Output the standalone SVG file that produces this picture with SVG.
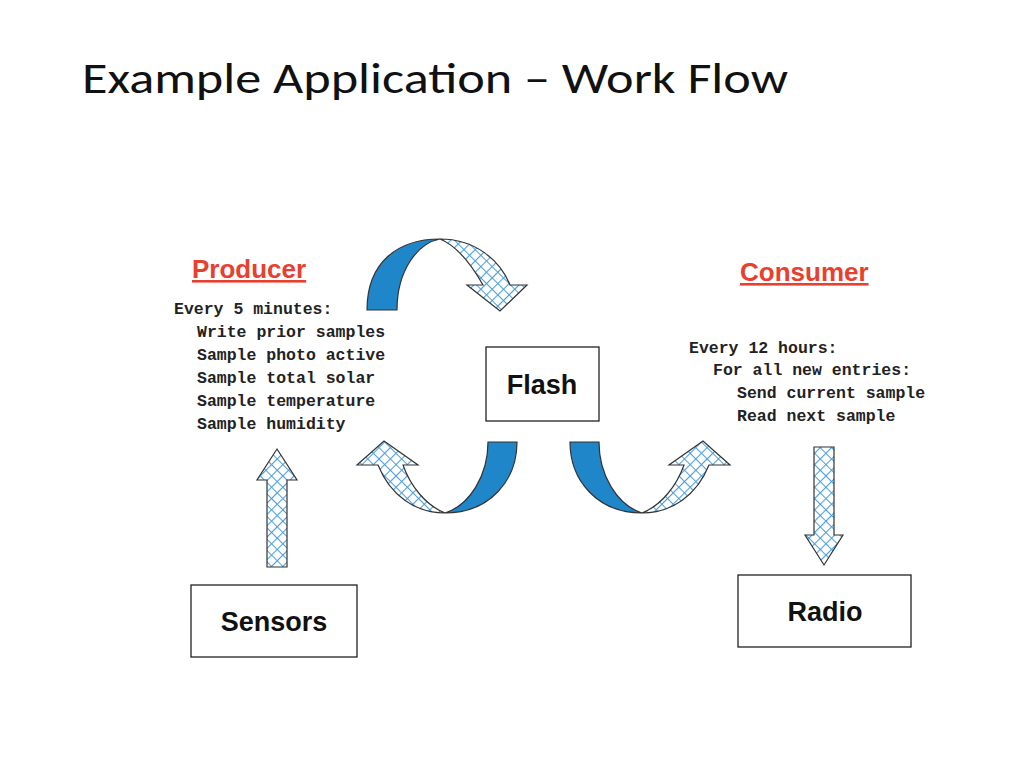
<svg xmlns="http://www.w3.org/2000/svg" width="1024" height="768" viewBox="0 0 1024 768">
<style>
.box{fill:#fff;stroke:#222;stroke-width:1.3}
.lbl{font-family:"Liberation Sans",Arial,sans-serif;font-weight:bold;font-size:27px;fill:#111;text-anchor:middle}
.role{font-family:"Liberation Sans",Arial,sans-serif;font-weight:bold;font-size:26px;fill:#e8402f;text-decoration:underline}
.code{font-family:"Liberation Mono","Courier New",monospace;font-weight:bold;font-size:16.5px;fill:#222}
.solid{fill:#1f86c9;stroke:#333;stroke-width:1.2}
.hatch{fill:url(#hx);stroke:#333;stroke-width:1.2}
</style>
<defs>
<pattern id="hx" width="8" height="8" patternUnits="userSpaceOnUse" patternTransform="rotate(45)">
<rect width="8" height="8" fill="#fff"/>
<path d="M0,0H8M0,0V8" stroke="#4d9fdc" stroke-width="2.2"/>
</pattern>
</defs>
<rect width="1024" height="768" fill="#fff"/>
<text x="82" y="93" font-family="Carlito,'Open Sans','Liberation Sans',sans-serif" font-size="44" fill="#111" textLength="706" lengthAdjust="spacingAndGlyphs">Example Application – Work Flow</text>

<text class="role" x="192" y="278">Producer</text>
<text class="role" x="740" y="281">Consumer</text>
<g class="code">
<text x="174" y="314">Every 5 minutes:</text>
<text x="197" y="337">Write prior samples</text>
<text x="197" y="360">Sample photo active</text>
<text x="197" y="383">Sample total solar</text>
<text x="197" y="406">Sample temperature</text>
<text x="197" y="429">Sample humidity</text>
<text x="689" y="353">Every 12 hours:</text>
<text x="713" y="375">For all new entries:</text>
<text x="737" y="398">Send current sample</text>
<text x="737" y="421">Read next sample</text>
</g>

<g id="flash"><rect class="box" x="486" y="347" width="113" height="74"/><text class="lbl" x="542" y="394">Flash</text></g>
<g id="sensors"><rect class="box" x="191" y="585" width="166" height="72"/><text class="lbl" x="274" y="631">Sensors</text></g>
<g id="radio"><rect class="box" x="738" y="575" width="173" height="72"/><text class="lbl" x="825" y="621">Radio</text></g>

<g id="connectors">
<path class="solid" d="M367,310 C367,262 398,239 440,239 C418,243 397,270 397,310 Z"/>
<path class="hatch" d="M440,239 C475,239 500,260 510,285 L527,285 L500,311 L467,285 L483,285 C470,262 455,245 440,239 Z"/>
<path class="hatch" d="M378,465 C390,495 415,513 445,513 C425,505 410,485 403,465 L418,465 L384,441 L357,465 Z"/>
<path class="solid" d="M445,513 C490,513 517,480 517,442 L488,442 C488,475 470,505 445,513 Z"/>
<path class="hatch" d="M709,465 C697,495 672,513 642,513 C662,505 677,485 684,465 L669,465 L703,441 L730,465 Z"/>
<path class="solid" d="M642,513 C597,513 570,480 570,442 L599,442 C599,475 617,505 642,513 Z"/>
<path class="hatch" d="M267,567 V480 H257 L277,449 L297,480 H287 V567 Z"/>
<path class="hatch" d="M814,447 V535 H805 L824,565 L843,535 H834 V447 Z"/>
</g>
</svg>
